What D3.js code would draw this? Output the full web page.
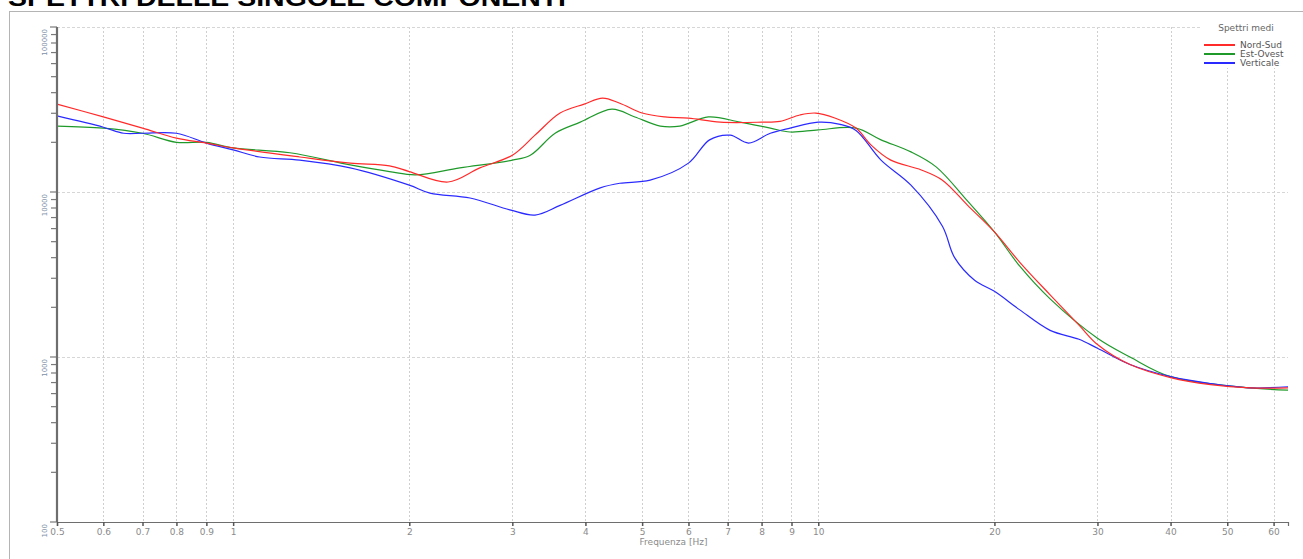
<!DOCTYPE html>
<html>
<head>
<meta charset="utf-8">
<script src="https://cdn.jsdelivr.net/npm/d3@7/dist/d3.min.js"></script>
<style>
  html, body { margin: 0; padding: 0; background: #fff; }
  svg { display: block; }
  text { font-family: "DejaVu Sans", Verdana, sans-serif; }
  text.title { font-family: "Liberation Sans", Arial, sans-serif; }
</style>
</head>
<body>
<svg id="chart" width="1303" height="559"></svg>
<script>
// Frequency samples (Hz) and average spectral amplitudes per component
const freqNS = [0.5, 0.6, 0.7, 0.8, 0.9, 1.0, 1.3, 1.585, 1.85, 2.0, 2.33, 2.64, 3.0, 3.28, 3.62, 3.98, 4.28, 4.58, 5.0, 5.47, 6.0, 6.8, 8.0, 8.6, 9.3, 9.9, 10.7, 11.6, 12.3, 13.3, 15.0, 16.3, 18.0, 20.0, 22.1, 24.9, 27.9, 30.0, 34.1, 40.0, 46.8, 54.7, 63.5];
const nordSud = [34100, 28500, 24400, 21200, 19800, 18500, 16300, 14960, 14400, 13300, 11500, 14000, 16700, 22100, 30100, 34100, 37100, 34500, 30100, 28500, 28000, 26500, 26500, 26800, 29300, 30100, 28000, 24400, 19300, 15600, 13600, 11800, 8300, 5730, 3750, 2380, 1560, 1190, 900, 750, 680, 650, 650];

const freqEO = [0.5, 0.6, 0.7, 0.8, 0.9, 1.0, 1.25, 1.585, 1.85, 2.05, 2.44, 3.0, 3.22, 3.55, 3.92, 4.44, 4.86, 5.37, 5.8, 6.49, 7.35, 8.28, 8.95, 10.0, 11.6, 12.8, 14.4, 15.9, 18.0, 20.0, 22.1, 24.9, 30.0, 34.1, 40.0, 54.7, 63.5];
const estOvest = [25100, 24400, 22700, 20000, 20000, 18500, 17300, 14600, 13300, 12700, 14000, 15600, 16700, 22700, 26500, 31800, 28500, 25100, 25100, 28500, 26500, 24400, 23100, 23800, 24400, 20700, 17500, 14200, 8800, 5730, 3550, 2250, 1300, 1000, 760, 650, 630];

const freqV = [0.5, 0.6, 0.65, 0.7, 0.8, 0.9, 1.0, 1.11, 1.3, 1.585, 2.0, 2.17, 2.54, 2.97, 3.28, 3.62, 4.24, 4.58, 5.16, 6.0, 6.52, 7.07, 7.6, 8.28, 8.95, 10.0, 10.9, 11.6, 12.8, 14.4, 16.3, 17.1, 18.5, 20.0, 22.1, 24.9, 27.9, 30.0, 34.1, 40.0, 46.8, 54.7, 63.5];
const verticale = [28900, 24700, 22700, 22700, 22700, 19800, 18000, 16300, 15600, 14000, 11000, 9850, 9200, 7800, 7250, 8300, 10600, 11300, 11800, 14960, 20700, 22100, 19800, 22700, 24400, 26500, 25700, 23600, 15600, 11000, 6200, 4000, 2920, 2500, 1930, 1450, 1280, 1130, 900, 760, 690, 650, 660];

const xTicks = [0.5, 0.6, 0.7, 0.8, 0.9, 1, 2, 3, 4, 5, 6, 7, 8, 9, 10, 20, 30, 40, 50, 60];
const yTicks = [100, 1000, 10000, 100000];

const seriesNames = ["Nord-Sud", "Est-Ovest", "Verticale"];
const seriesColors = ["#ff2a2a", "#1f9a2a", "#2a2aff"];

const svg = d3.select("#chart");
const plot = { left: 57, right: 1288, top: 27, bottom: 522 };

const x = d3.scaleLog().domain([0.5, 63.5]).range([plot.left, plot.right]);
const y = d3.scaleLog().domain([100, 100000]).range([plot.bottom, plot.top]);

// Title, partially clipped at the top of the page
svg.append("text")
  .attr("class", "title")
  .attr("x", 8).attr("y", 6)
  .attr("font-size", 24).attr("font-weight", "bold").attr("fill", "#000")
  .attr("textLength", 558).attr("lengthAdjust", "spacingAndGlyphs")
  .text("SPETTRI DELLE SINGOLE COMPONENTI");

// Panel frame
svg.append("rect")
  .attr("x", 9.5).attr("y", 11.5).attr("width", 1300).attr("height", 600)
  .attr("fill", "none").attr("stroke", "#b4b4b4").attr("stroke-width", 1);

// Grid
const grid = svg.append("g");
grid.selectAll("line.v").data(xTicks.filter(d => d > 0.5)).join("line")
  .attr("x1", d => Math.round(x(d)) + 0.5).attr("x2", d => Math.round(x(d)) + 0.5)
  .attr("y1", plot.top).attr("y2", plot.bottom)
  .attr("stroke", "#cfcfcf").attr("stroke-dasharray", "2,2");
grid.selectAll("line.h").data(yTicks.filter(d => d > 100)).join("line")
  .attr("x1", plot.left).attr("x2", plot.right)
  .attr("y1", d => Math.round(y(d)) + 0.5).attr("y2", d => Math.round(y(d)) + 0.5)
  .attr("stroke", "#d6d6d6").attr("stroke-dasharray", "3,2");

// Curves
const line = d3.line()
  .x(d => x(d[0])).y(d => y(d[1]))
  .curve(d3.curveCatmullRom.alpha(0.5));

const series = [
  d3.zip(freqNS, nordSud),
  d3.zip(freqEO, estOvest),
  d3.zip(freqV, verticale)
];
const curves = svg.append("g");
[1, 2, 0].forEach(i => {
  curves.append("path")
    .attr("d", line(series[i]))
    .attr("fill", "none")
    .attr("stroke", seriesColors[i])
    .attr("stroke-width", 1.2)
    .attr("stroke-linejoin", "round");
});

// X axis
const xAxis = d3.axisBottom(x).tickValues(xTicks).tickFormat(d3.format("")).tickSize(4).tickPadding(3);
const gx = svg.append("g").attr("transform", `translate(0,${plot.bottom})`).call(xAxis);
gx.select(".domain").attr("stroke", "#6e6e6e").attr("stroke-width", 1.2);
gx.selectAll(".tick line").attr("stroke", "#555").attr("stroke-width", 1.5);
gx.selectAll(".tick text").attr("fill", "#8a8a8a").attr("font-size", 9);

svg.append("text")
  .attr("x", (plot.left + plot.right) / 2 + 1).attr("y", 545)
  .attr("text-anchor", "middle").attr("font-size", 9).attr("fill", "#8a8a8a")
  .text("Frequenza [Hz]");

// Y axis with log minor ticks
const minor = [];
for (let e = 2; e < 5; e++) for (let k = 2; k <= 9; k++) minor.push(k * Math.pow(10, e));
const gy = svg.append("g").attr("transform", `translate(${plot.left},0)`);
gy.selectAll("line.minor").data(minor).join("line")
  .attr("x1", -6).attr("x2", 0)
  .attr("y1", d => y(d)).attr("y2", d => y(d))
  .attr("stroke", "#7a7a7a").attr("stroke-width", 1.2);
gy.selectAll("line.major").data(yTicks).join("line")
  .attr("x1", -7).attr("x2", 0)
  .attr("y1", d => y(d)).attr("y2", d => y(d))
  .attr("stroke", "#7a7a7a").attr("stroke-width", 1.2);
gy.append("line")
  .attr("x1", 0).attr("x2", 0).attr("y1", plot.top).attr("y2", plot.bottom)
  .attr("stroke", "#6e6e6e").attr("stroke-width", 2.2);
gy.selectAll("text").data(yTicks).join("text")
  .attr("transform", d => `translate(-10,${y(d) + 2}) rotate(-90)`)
  .attr("text-anchor", "end").attr("font-size", 7).attr("fill", "#8090a8")
  .text(d => d);

// Legend on a white box that hides the grid behind it
const lg = svg.append("g");
lg.append("rect").attr("x", 1200).attr("y", 18).attr("width", 101).attr("height", 50)
  .attr("fill", "#fff");
lg.append("text").attr("x", 1246).attr("y", 31).attr("text-anchor", "middle")
  .attr("font-size", 9).attr("fill", "#666").text("Spettri medi");
seriesNames.forEach((n, i) => {
  const yy = 45 + i * 9;
  lg.append("line").attr("x1", 1204).attr("x2", 1235).attr("y1", yy).attr("y2", yy)
    .attr("stroke", seriesColors[i]).attr("stroke-width", 2);
  lg.append("text").attr("x", 1240).attr("y", yy + 3).attr("font-size", 9)
    .attr("fill", "#555").text(n);
});
</script>
</body>
</html>
